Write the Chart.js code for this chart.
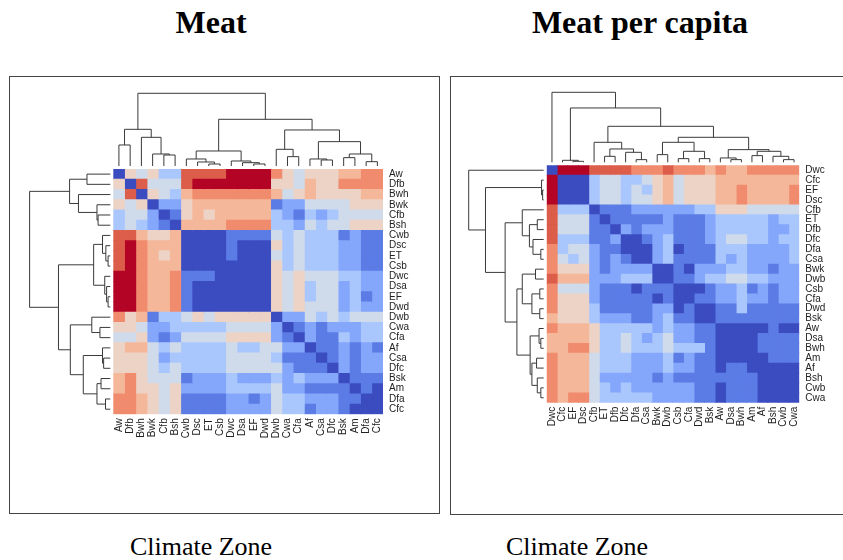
<!DOCTYPE html>
<html>
<head>
<meta charset="utf-8">
<script src="https://cdn.jsdelivr.net/npm/chart.js@4.4.1/dist/chart.umd.min.js"></script>
<style>
body { margin:0; width:843px; height:560px; position:relative; background:#fff; overflow:hidden; }
.box { position:absolute; border:1px solid #444; box-sizing:border-box; }
.box canvas { position:absolute; left:0; top:0; }
.title { position:absolute; width:300px; text-align:center; font:bold 32px 'Liberation Serif', serif; line-height:32px; color:#000; }
.xlab { position:absolute; width:240px; text-align:center; font:26px 'Liberation Serif', serif; line-height:26px; color:#000; }
</style>
</head>
<body>
<div class="title" style="left:61px; top:6px;">Meat</div>
<div class="title" style="left:490px; top:6px;">Meat per capita</div>
<div class="box" style="left:9px; top:76px; width:431px; height:438px;"><canvas id="meat" width="429" height="436"></canvas></div>
<div class="box" style="left:450px; top:76px; width:400px; height:439px;"><canvas id="percap" width="392" height="436"></canvas></div>
<div class="xlab" style="left:81px; top:534px;">Climate Zone</div>
<div class="xlab" style="left:457px; top:534px;">Climate Zone</div>
<script>
// colour levels 0 (strong negative, red) .. 9 (strong positive, blue)
const palette = ['#b40426','#dc5d4a','#f08b6e','#f5b79a','#ecd3c5','#cfdaea','#aac7fd','#84a6fb','#5b7be5','#3b4cc0'];

// ---- Meat ----
const zonesMeat = ['Aw','Dfb','Bwh','Bwk','Cfb','Bsh','Cwb','Dsc','ET','Csb','Dwc','Dsa','EF','Dwd','Dwb','Cwa','Cfa','Af','Csa','Dfc','Bsk','Am','Dfa','Cfc'];
const corrMeat = [
  [9,4,5,4,6,6, 1,1,1,1,0,0,0,0, 2,4,5,4,4,4,3,3,2,2],
  [4,9,1,5,5,5, 1,0,0,0,0,0,0,0, 4,4,5,3,4,4,2,2,2,2],
  [5,1,9,4,5,6, 3,2,2,2,2,2,2,2, 3,5,4,3,4,4,4,4,3,3],
  [4,5,4,9,7,7, 4,3,3,3,3,3,3,3, 8,7,7,5,5,5,5,4,4,4],
  [6,5,5,7,9,8, 4,3,4,3,3,3,3,3, 6,7,8,6,7,6,5,5,5,5],
  [6,5,6,7,8,9, 3,3,3,3,2,2,2,2, 6,6,7,5,6,5,5,4,4,4],
  [1,1,3,4,4,3, 9,9,9,9,8,8,8,8, 5,6,5,6,6,6,8,7,8,8],
  [1,0,2,3,3,3, 9,9,9,9,8,9,9,9, 4,6,5,6,6,6,7,7,8,8],
  [1,0,2,3,4,3, 9,9,9,9,8,9,9,9, 5,6,5,6,6,6,7,7,8,8],
  [1,0,2,3,3,3, 9,9,9,9,9,9,9,9, 4,6,5,6,6,6,7,7,8,8],
  [0,0,2,3,3,2, 8,8,8,9,9,9,9,9, 4,5,4,5,5,5,6,6,7,7],
  [0,0,2,3,3,2, 8,9,9,9,9,9,9,9, 4,5,4,6,5,5,7,6,7,7],
  [0,0,2,3,3,2, 8,9,9,9,9,9,9,9, 4,5,4,6,5,5,7,6,8,7],
  [0,0,2,3,3,2, 8,9,9,9,9,9,9,9, 4,5,4,5,5,5,7,6,7,7],
  [2,4,3,8,6,6, 5,4,5,4,4,4,4,4, 9,7,7,5,6,5,6,5,5,5],
  [4,4,5,7,7,6, 6,6,6,6,5,5,5,5, 7,9,8,7,8,7,7,7,6,6],
  [5,5,4,7,8,7, 5,5,5,5,4,4,4,4, 7,8,9,7,8,8,6,7,6,6],
  [4,3,3,5,6,5, 6,6,6,6,5,6,6,5, 5,7,7,9,8,8,7,8,7,8],
  [4,4,4,5,7,6, 6,6,6,6,5,5,5,5, 6,8,8,8,9,8,7,8,7,7],
  [4,4,4,5,6,5, 6,6,6,6,5,5,5,5, 5,7,8,8,8,9,7,8,7,7],
  [3,2,4,5,5,5, 8,7,7,7,6,7,7,7, 6,7,6,7,7,7,9,8,8,8],
  [3,2,4,4,5,4, 7,7,7,7,6,6,6,6, 5,7,7,8,8,8,8,9,8,9],
  [2,2,3,4,5,4, 8,8,8,8,7,7,8,7, 5,6,6,7,7,7,8,8,9,9],
  [2,2,3,4,5,4, 8,8,8,8,7,7,7,7, 5,6,6,8,7,7,8,9,9,9]
];
// dendrogram merges (hclust style: negative = leaf, positive = earlier merge)
const mergeAMeat = [-1,-5,-4,-3,1,-9,-8,-7,-13,-12,-11,8,-16,-15,-19,-18,-21,-23,17,16,14,12,5];
const mergeBMeat = [-2,-6,2,3,4,-10,6,7,-14,9,10,11,-17,13,-20,15,-22,-24,18,19,20,21,22];
const mergeHMeat = [63,33,36,86,110,6,12,21,6,10,15,45,28,50,18,21,25,13,36,73,108,140,218];

// ---- Meat per capita ----
const zonesCap = ['Dwc','Cfc','EF','Dsc','Cfb','ET','Dfb','Dfc','Dfa','Csa','Bwk','Dwb','Csb','Cfa','Dwd','Bsk','Aw','Dsa','Bwh','Am','Af','Bsh','Cwb','Cwa'];
const corrCap = [
  [9,0,0,0, 1,1,1,1,2,2,2,1,2,2,2,3, 2,3,3,2,2,2,2,2],
  [0,9,9,9, 6,5,5,6,6,5,4,3,5,4,4,4, 3,3,3,3,3,3,3,3],
  [0,9,9,9, 6,5,5,6,5,6,4,3,5,4,4,4, 3,3,2,3,3,3,3,2],
  [0,9,9,9, 6,5,5,6,5,5,4,3,5,4,4,4, 3,3,2,3,3,3,3,2],
  [1,6,6,6, 9,8,8,8,7,7,7,7,7,7,6,6, 4,4,4,5,5,5,5,5],
  [1,5,5,5, 8,9,8,8,8,8,8,7,8,8,8,7, 6,6,6,6,6,7,6,6],
  [1,5,5,5, 8,8,9,7,8,7,7,7,8,8,8,7, 6,6,6,6,6,7,7,6],
  [1,6,6,6, 8,8,7,9,9,8,7,6,8,8,8,7, 6,5,5,6,6,7,6,6],
  [2,6,5,5, 7,8,8,9,9,9,7,6,9,8,8,8, 6,6,6,7,7,7,7,6],
  [2,5,6,5, 7,8,7,8,9,9,7,6,8,8,8,8, 6,7,6,7,7,7,7,6],
  [2,4,4,4, 7,8,7,7,7,7,9,9,8,9,7,7, 7,6,6,7,7,8,7,7],
  [1,3,3,3, 7,7,7,6,6,6,9,9,8,8,7,6, 6,5,5,6,6,7,7,7],
  [2,5,5,5, 7,8,8,8,9,8,8,8,9,9,9,8, 7,7,6,8,7,8,7,7],
  [2,4,4,4, 7,8,8,8,8,8,9,8,9,9,8,8, 7,7,6,7,7,8,7,7],
  [2,4,4,4, 6,8,8,8,8,8,7,7,9,8,9,9, 8,8,6,8,8,8,8,8],
  [3,4,4,4, 6,7,7,7,8,8,7,6,8,8,9,9, 8,8,8,8,8,8,8,8],
  [2,3,3,3, 4,6,6,6,6,6,7,6,7,7,8,8, 9,9,9,9,9,8,9,9],
  [3,3,3,3, 4,6,6,5,6,7,6,5,7,7,8,8, 9,9,9,9,8,8,8,8],
  [3,3,2,2, 4,6,6,5,6,6,6,5,6,6,6,8, 9,9,9,9,8,8,8,8],
  [2,3,3,3, 5,6,6,6,7,7,7,6,8,7,8,8, 9,9,9,9,9,8,8,8],
  [2,3,3,3, 5,6,6,6,7,7,7,6,7,7,8,8, 9,8,8,9,9,9,9,9],
  [2,3,3,3, 5,7,7,7,7,7,8,7,8,8,8,8, 8,8,8,8,9,9,9,9],
  [2,3,3,3, 5,6,7,6,7,7,7,7,7,7,8,8, 9,8,8,8,9,9,9,9],
  [2,3,2,2, 5,6,6,6,6,6,7,7,7,7,8,8, 9,8,8,8,9,9,9,9]
];
const mergeACap = [-3,-2,-6,-9,-8,3,-5,-11,-13,-15,9,8,-18,-17,-20,-23,-22,15,14,12,7,2,-1];
const mergeBCap = [-4,1,-7,-10,4,5,6,-12,-14,-16,10,11,-19,13,-21,-24,16,17,18,19,20,21,22];
const mergeHCap = [3,6,18,8,30,40,60,23,11,11,33,60,8,13,20,8,18,33,38,75,108,163,210];

// draws the row and column dendrograms next to the heat map
const dendroPlugin = {
  id: 'dendro',
  afterDatasetsDraw(chart, args, o) {
    const ctx = chart.ctx;
    const area = chart.chartArea;
    const hmax = o.h[o.h.length - 1];
    const sides = [
      { pos: i => chart.scales.xc.getPixelForValue(i), hp: h => area.top - o.gap - h / hmax * o.topSize, vert: false },
      { pos: i => chart.scales.y.getPixelForValue(i), hp: h => area.left - o.gap - h / hmax * o.leftSize, vert: true }
    ];
    ctx.save();
    ctx.strokeStyle = '#3a3a3a';
    ctx.lineWidth = 1;
    sides.forEach(s => {
      const nodes = [];
      const get = v => v < 0 ? { p: s.pos(-v - 1), h: 0 } : nodes[v - 1];
      for (let k = 0; k < o.a.length; k++) {
        const a = get(o.a[k]), b = get(o.b[k]);
        const n = { p: (a.p + b.p) / 2, h: o.h[k] };
        const pts = [[a.p, s.hp(a.h)], [a.p, s.hp(n.h)], [b.p, s.hp(n.h)], [b.p, s.hp(b.h)]];
        ctx.beginPath();
        pts.forEach((pt, j) => {
          const x = s.vert ? pt[1] : pt[0];
          const y = s.vert ? pt[0] : pt[1];
          if (j === 0) ctx.moveTo(x, y); else ctx.lineTo(x, y);
        });
        ctx.stroke();
        nodes.push(n);
      }
    });
    ctx.restore();
  }
};

function heatmap(id, zones, corr, mA, mB, mH, lay) {
  const datasets = zones.map((z, j) => ({
    label: z,
    data: zones.map(() => [j, j + 1]),
    backgroundColor: corr.map(row => palette[row[j]]),
    borderWidth: 0,
    grouped: false,
    barPercentage: 1,
    categoryPercentage: 1,
    inflateAmount: 0.4
  }));
  const font = { family: 'Liberation Sans', size: 10 };
  return new Chart(document.getElementById(id), {
    type: 'bar',
    data: { labels: zones, datasets: datasets },
    plugins: [dendroPlugin],
    options: {
      indexAxis: 'y',
      responsive: false,
      animation: false,
      layout: { padding: { left: lay.left, top: lay.top, right: lay.right, bottom: lay.bottom } },
      plugins: {
        legend: { display: false },
        tooltip: { enabled: false },
        dendro: { a: mA, b: mB, h: mH, gap: 3, topSize: lay.topSize, leftSize: lay.leftSize }
      },
      scales: {
        x: { type: 'linear', min: 0, max: zones.length, display: false },
        xc: {
          type: 'category', labels: zones, position: 'bottom', offset: true,
          grid: { display: false, drawTicks: false }, border: { display: false },
          ticks: { autoSkip: false, minRotation: 90, maxRotation: 90, padding: 4, font: font, color: '#222' },
          afterFit: s => { s.height = lay.xh; }
        },
        y: {
          type: 'category', position: 'right', offset: true,
          grid: { display: false, drawTicks: false }, border: { display: false },
          ticks: { autoSkip: false, padding: 6, font: font, color: '#222' },
          afterFit: s => { s.width = lay.yw; }
        }
      }
    }
  });
}

heatmap('meat', zonesMeat, corrMeat, mergeAMeat, mergeBMeat, mergeHMeat,
  { left: 103.3, top: 92, right: 6, bottom: 58.7, yw: 50, xh: 40, topSize: 72.7, leftSize: 80.7 });
heatmap('percap', zonesCap, corrCap, mergeACap, mergeBCap, mergeHCap,
  { left: 95.7, top: 88.3, right: 3.7, bottom: 70.3, yw: 40, xh: 40, topSize: 70, leftSize: 75 });
</script>
</body>
</html>
